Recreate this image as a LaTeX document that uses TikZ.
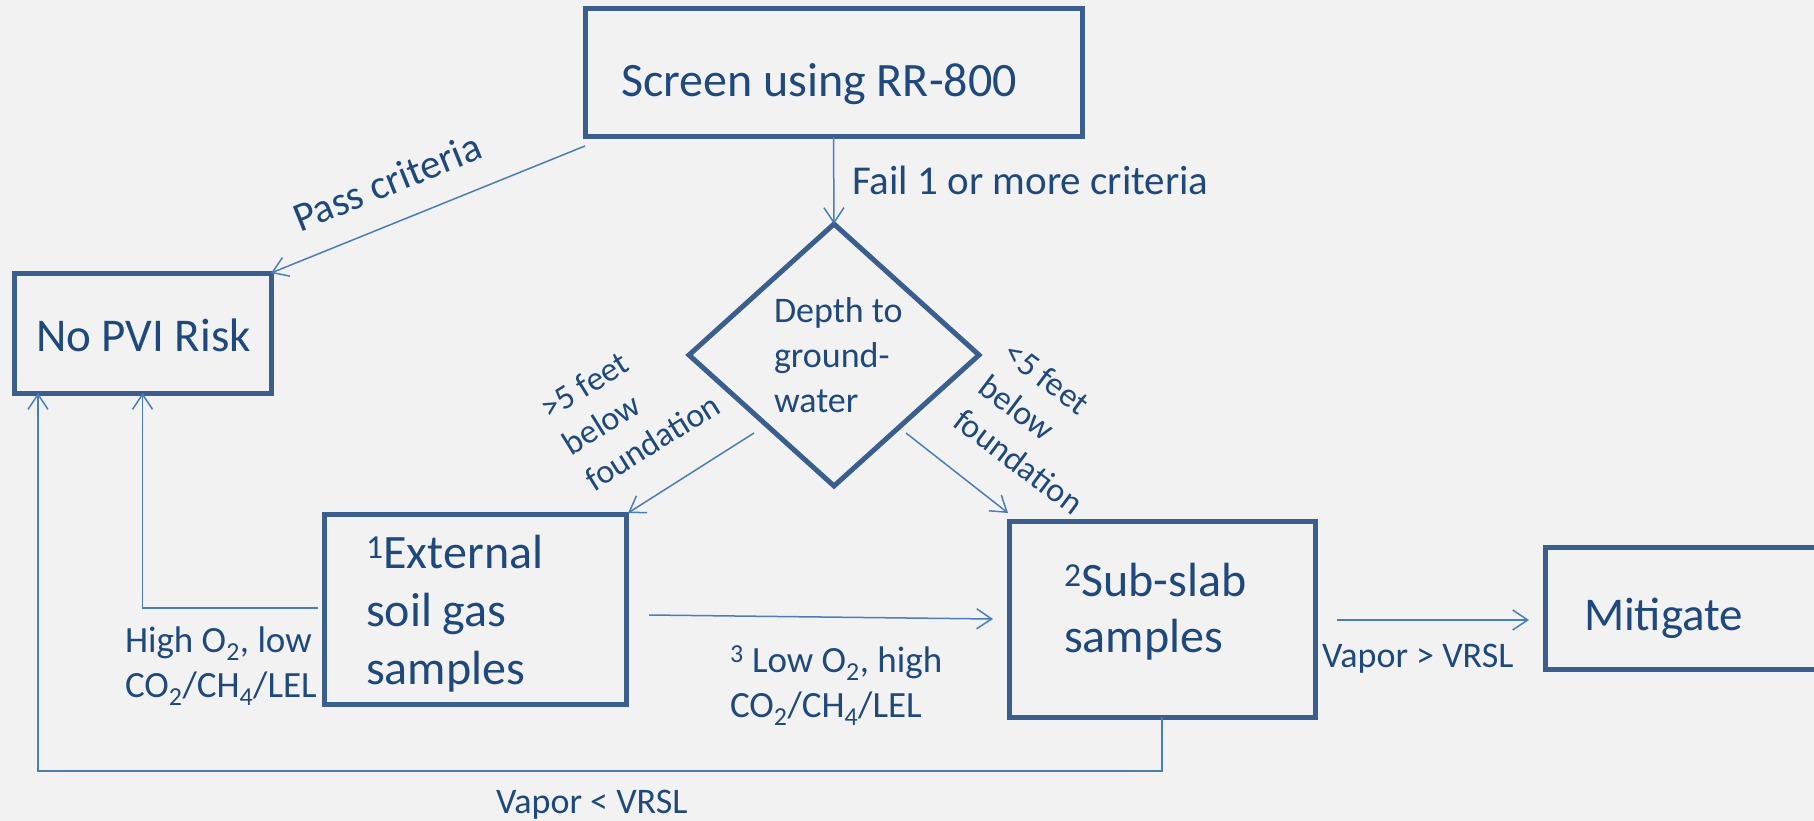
\documentclass[tikz,border=0pt]{standalone}
\usepackage{fontspec}
\setmainfont{Carlito}
\usetikzlibrary{shapes.geometric,arrows.meta,calc}
\definecolor{bgc}{HTML}{F2F2F2}
\definecolor{boxc}{HTML}{3A5F8E}
\definecolor{linec}{HTML}{4A7EBB}
\definecolor{txtc}{HTML}{1F497D}
\newcommand\myfs[2]{\fontsize{#1}{#2}\selectfont}
\tikzset{
  boxnode/.style={draw=boxc, line width=5pt, rectangle, inner sep=0pt, outer sep=0pt, anchor=north west},
  txt/.style={text=txtc, inner sep=0pt, outer sep=0pt, anchor=base west, align=left},
  conn/.style={draw=linec, line width=1.5pt, -{Straight Barb[length=15pt,width=20pt]}},
}
\begin{document}
\begin{tikzpicture}[x=1pt,y=-1pt]
\fill[bgc] (0,0) rectangle (1814,821);
\useasboundingbox (0,0) rectangle (1814,821);

% boxes
\node[boxnode, minimum width=497pt, minimum height=128pt] (screen) at (585,9) {};
\node[boxnode, minimum width=257pt, minimum height=120pt] (nopvi) at (14,273) {};
\node[boxnode, minimum width=302pt, minimum height=190pt] (ext) at (324,514) {};
\node[boxnode, minimum width=306pt, minimum height=196pt] (sub) at (1009,521) {};
\node[boxnode, minimum width=300pt, minimum height=122pt] (mit) at (1545,547) {};
\node[diamond, draw=boxc, line width=5pt, minimum width=290pt, minimum height=262pt, inner sep=0pt, outer sep=0pt] (dia) at (834,355) {};

% box texts (multi-line nodes: base = last line)
\node[txt, font=\myfs{48}{58}] (tscreen) at (621,97) {Screen using RR-800};
\node[txt, font=\myfs{47}{56}] (tnopvi) at (36,351) {No PVI Risk};
\node[txt, font=\myfs{36}{45}] (tdia) at (774,412) {Depth to\\ground-\\water};
\node[txt, font=\myfs{48}{58}] (text) at (366,684) {\textsuperscript{1}External\\soil gas\\samples};
\node[txt, font=\myfs{48}{56}] (tsub) at (1064,652) {\textsuperscript{2}Sub-slab\\samples};
\node[txt, font=\myfs{47}{56}] (tmit) at (1584,630) {Mitigate};

% connector labels
\node[txt, font=\myfs{41}{48}] (lfail) at (852,195) {Fail 1 or more criteria};
\node[txt, font=\myfs{41}{48}, rotate=22] (lpass) at (300,232) {Pass criteria};
\node[txt, font=\myfs{34}{42}, rotate=32] (lgt) at (594,492) {>5 feet\\below\\foundation};
\node[txt, font=\myfs{34}{42}, rotate=-37] (llt) at (951,425) {<5 feet\\below\\foundation};
\node[txt, font=\myfs{37}{45}] (lhigh) at (125,697) {High O\textsubscript{2}, low\\CO\textsubscript{2}/CH\textsubscript{4}/LEL};
\node[txt, font=\myfs{37}{45}] (llow) at (730,717) {\textsuperscript{3} Low O\textsubscript{2}, high\\CO\textsubscript{2}/CH\textsubscript{4}/LEL};
\node[txt, font=\myfs{36}{44}] (lvgt) at (1322,667) {Vapor > VRSL};
\node[txt, font=\myfs{36}{44}] (lvlt) at (496,813) {Vapor < VRSL};

% connectors
\draw[conn] (screen.south) -- (dia.north);
\draw[conn] ($(screen.south west)+(0,9)$) -- (nopvi.north east);
\draw[conn] ($(dia.south)+(-80,-53)$) -- ($(ext.north east)+(2,-1)$);
\draw[conn] ($(dia.south)+(72,-53)$) -- ($(sub.north west)+(-1,-8)$);
\draw[conn] ($(ext.east)+(23,6)$) -- ($(sub.west)+(-16,0)$);
\draw[conn] ($(sub.east)+(22,1)$) -- ($(mit.west)+(-16,12)$);
\draw[conn] ($(ext.west)+(-6,-1)$) -| (nopvi.south);
\draw[conn] (sub.south) -- ++(0,54) -| ($(nopvi.south west)+(24,0)$);
\end{tikzpicture}
\end{document}
